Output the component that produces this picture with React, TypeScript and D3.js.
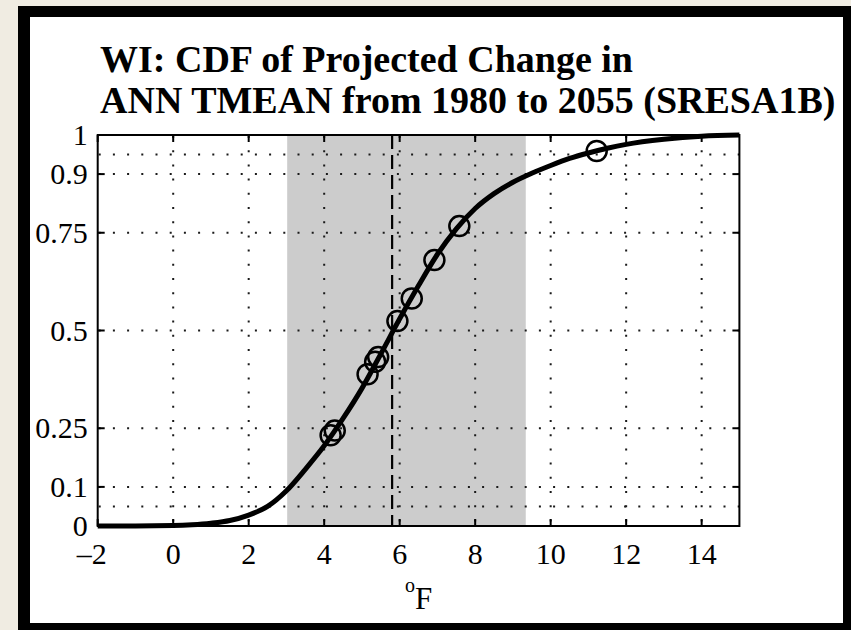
import * as d3 from 'd3';

// CDF (x in °F, y = cumulative probability)
const CDF_X = [-2, -1, 0, 0.5, 1, 1.5, 2, 2.5, 3, 3.5, 4, 4.5, 5, 5.5, 6, 6.5, 7, 7.5, 8, 8.5, 9, 9.5, 10, 10.5, 11, 11.5, 12, 13, 14, 15];
const CDF_Y = [0, 0, 0.001, 0.003, 0.007, 0.014, 0.028, 0.05, 0.09, 0.145, 0.205, 0.275, 0.352, 0.44, 0.53, 0.615, 0.695, 0.76, 0.812, 0.85, 0.879, 0.902, 0.922, 0.94, 0.954, 0.966, 0.976, 0.989, 0.997, 1.0];

// individual model projections (circles)
const MODEL_X = [4.17, 4.28, 5.15, 5.35, 5.43, 5.94, 6.32, 6.92, 7.58, 11.22];
const MODEL_P = [0.232, 0.244, 0.388, 0.42, 0.432, 0.524, 0.582, 0.68, 0.767, 0.959];

// 10th–90th percentile band and median
const BAND = [3.02, 9.34];
const MEDIAN = 5.8;

const X_TICKS = [-2, 0, 2, 4, 6, 8, 10, 12, 14];
const X_GRID = [0, 2, 4, 6, 8, 10, 12, 14];
const Y_TICKS = [0, 0.1, 0.25, 0.5, 0.75, 0.9, 1];
const Y_TICK_LABELS = ['0', '0.1', '0.25', '0.5', '0.75', '0.9', '1'];
const Y_GRID = [0.05, 0.1, 0.25, 0.5, 0.75, 0.9, 0.95];

const TITLE = ['WI: CDF of Projected Change in', 'ANN TMEAN from 1980 to 2055 (SRESA1B)'];

const W = 851;
const H = 630;
const plot = { left: 97.7, right: 739.4, top: 135, bottom: 526 };
const SERIF = '"Liberation Serif", "Times New Roman", Times, serif';

export default function App() {
  const x = d3.scaleLinear().domain([-2, 15]).range([plot.left, plot.right]);
  const y = d3.scaleLinear().domain([0, 1]).range([plot.bottom, plot.top]);

  const curvePts: [number, number][] = CDF_X.map((v, i) => [v, CDF_Y[i]]);
  const line = d3.line<[number, number]>()
    .x((d) => x(d[0]))
    .y((d) => y(d[1]))
    .curve(d3.curveMonotoneX);

  const tickLen = 7;
  const dots = '2 12.2';

  return (
    <div style={{ position: 'absolute', left: 0, top: 0 }}>
      <svg width={W} height={H} style={{ display: 'block' }}>
        <rect x={0} y={0} width={W} height={H} fill="#f0ece2" />
        <rect x={18} y={6} width={W - 18} height={H - 6} fill="#000" />
        <rect x={30} y={17} width={813} height={606} fill="#fff" />

        {/* title */}
        {TITLE.map((t, i) => (
          <text key={t} x={100} y={72 + i * 41} fontFamily={SERIF} fontWeight="bold" fontSize={38} fill="#000">
            {t}
          </text>
        ))}

        {/* percentile band */}
        <rect
          x={x(BAND[0])}
          y={plot.top}
          width={x(BAND[1]) - x(BAND[0])}
          height={plot.bottom - plot.top}
          fill="#cccccc"
        />

        {/* dotted grid */}
        <g stroke="#1a1a1a" strokeWidth={2} strokeDasharray={dots}>
          {X_GRID.map((v) => (
            <line key={'gx' + v} x1={x(v)} x2={x(v)} y1={plot.top + 1} y2={plot.bottom} />
          ))}
          {Y_GRID.map((v) => (
            <line key={'gy' + v} x1={plot.left + 1} x2={plot.right} y1={y(v)} y2={y(v)} />
          ))}
        </g>

        {/* median */}
        <line
          x1={x(MEDIAN)}
          x2={x(MEDIAN)}
          y1={plot.top}
          y2={plot.bottom}
          stroke="#000"
          strokeWidth={2.2}
          strokeDasharray="14 6"
        />

        {/* axes box and ticks */}
        <rect
          x={plot.left}
          y={plot.top}
          width={plot.right - plot.left}
          height={plot.bottom - plot.top}
          fill="none"
          stroke="#000"
          strokeWidth={2}
        />
        <g stroke="#000" strokeWidth={2}>
          {X_TICKS.map((v) => (
            <g key={'tx' + v}>
              <line x1={x(v)} x2={x(v)} y1={plot.bottom} y2={plot.bottom - tickLen} />
              <line x1={x(v)} x2={x(v)} y1={plot.top} y2={plot.top + tickLen} />
            </g>
          ))}
          {Y_TICKS.map((v) => (
            <g key={'ty' + v}>
              <line x1={plot.left} x2={plot.left + tickLen} y1={y(v)} y2={y(v)} />
              <line x1={plot.right} x2={plot.right - tickLen} y1={y(v)} y2={y(v)} />
            </g>
          ))}
        </g>

        {/* CDF curve */}
        <path d={line(curvePts) ?? ''} fill="none" stroke="#000" strokeWidth={5} strokeLinejoin="round" />

        {/* model circles */}
        <g fill="none" stroke="#000" strokeWidth={2.5}>
          {MODEL_X.map((v, i) => (
            <circle key={'m' + i} cx={x(v)} cy={y(MODEL_P[i])} r={10} />
          ))}
        </g>

        {/* tick labels */}
        <g fontFamily={SERIF} fontSize={30} fill="#000">
          {X_TICKS.map((v) => (
            <text key={'lx' + v} x={x(v)} dx={v < 0 ? -6 : 0} y={564} textAnchor="middle">
              {v < 0 ? '\u2013' + Math.abs(v) : String(v)}
            </text>
          ))}
          {Y_TICKS.map((v, i) => (
            <text key={'ly' + v} x={plot.left - 10} y={y(v)} dy="0.34em" textAnchor="end">
              {Y_TICK_LABELS[i]}
            </text>
          ))}
        </g>

        {/* x label: °F */}
        <text x={(plot.left + plot.right) / 2} y={609} textAnchor="middle" fontFamily={SERIF} fontSize={31} fill="#000">
          <tspan fontSize={20} dy={-17}>o</tspan>
          <tspan dy={17}>F</tspan>
        </text>
      </svg>
    </div>
  );
}
